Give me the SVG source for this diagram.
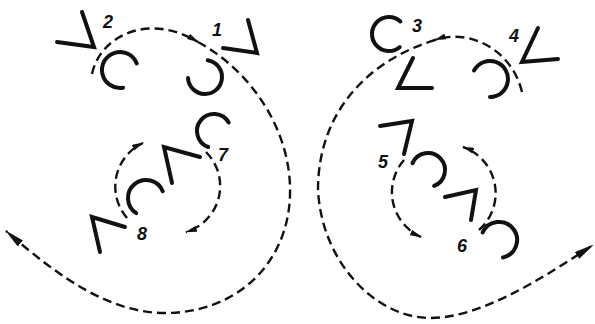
<svg xmlns="http://www.w3.org/2000/svg" width="595" height="324" viewBox="0 0 595 324">
<style>
.g{fill:none;stroke:#111;stroke-width:4;stroke-linecap:round;stroke-linejoin:miter}
.d{fill:none;stroke:#111;stroke-width:2.4;stroke-dasharray:9 5}
.t{font-family:"Liberation Sans",Arial,sans-serif;font-style:italic;font-weight:bold;font-size:18px;fill:#111;text-anchor:middle}
</style>
<defs>
<marker id="ah" markerUnits="userSpaceOnUse" viewBox="0 0 12 6" refX="11" refY="3" markerWidth="12" markerHeight="6" orient="auto"><path d="M0,0 L12,3 L0,6 z" fill="#111"/></marker>
<marker id="ahL" markerUnits="userSpaceOnUse" viewBox="0 0 20 8" refX="19" refY="4" markerWidth="20" markerHeight="8" orient="auto"><path d="M0,0 L20,4 L0,8 z" fill="#111"/></marker>
</defs>
<g id="connectors">
<path class="d" d="M92,74 C100,36 148,12 198,42" marker-end="url(#ah)"/>
<path class="d" d="M198,42 C250,70 292,130 290,195 C288,265 235,313 165,313 C110,313 60,278 6,231" marker-end="url(#ahL)"/>
<path class="d" d="M127,218 A48,48 0 0 1 143,143" marker-end="url(#ah)"/>
<path class="d" d="M206,152 A48,48 0 0 1 186,232" marker-end="url(#ah)"/>
<path class="d" d="M522,92 C512,50 470,28 435,40" marker-end="url(#ah)"/>
<path class="d" d="M435,40 C370,60 318,110 318,190 C322,265 378,318 430,318 C480,318 540,280 593,245" marker-end="url(#ahL)"/>
<path class="d" d="M404,160 A49,49 0 0 0 421,237" marker-end="url(#ah)"/>
<path class="d" d="M479,230 A49,49 0 0 0 463,147" marker-end="url(#ah)"/>
</g>
<g id="node1">
<polyline class="g" points="223,48 257,53 248,20"/>
<path class="g" d="M207.7,60.2 A17,17 0 1 1 188,77.9"/>
<text class="t" x="217" y="36">1</text>
</g>
<g id="node2">
<polyline class="g" points="57,42 94,47 82,12"/>
<path class="g" d="M136.8,63.5 A18,18 0 1 0 123.1,87.7"/>
<text class="t" x="108" y="28">2</text>
</g>
<g id="node3">
<polyline class="g" points="413,58 398,88 432,88"/>
<path class="g" d="M400.4,21.4 A17,17 0 1 0 399.7,47.2"/>
<text class="t" x="417" y="32">3</text>
</g>
<g id="node4">
<polyline class="g" points="538,28 522,62 558,59"/>
<path class="g" d="M474.1,70.5 A18,18 0 1 1 490,97"/>
<text class="t" x="514" y="42">4</text>
</g>
<g id="node5">
<polyline class="g" points="380,126 412,121 404,154"/>
<path class="g" d="M412.5,163.1 A17,17 0 1 1 434.1,185.9"/>
<text class="t" x="383" y="168">5</text>
</g>
<g id="node6">
<polyline class="g" points="445,197 476,190 471,220"/>
<path class="g" d="M482.7,232.4 A18,18 0 1 1 503,257.5"/>
<text class="t" x="462" y="252">6</text>
</g>
<g id="node7">
<polyline class="g" points="172,183 164,147 200,157"/>
<path class="g" d="M228.7,122.5 A17,17 0 1 0 208.2,147"/>
<text class="t" x="223" y="161">7</text>
</g>
<g id="node8">
<polyline class="g" points="100,252 92,217 125,227"/>
<path class="g" d="M162.7,191.3 A18,18 0 1 0 136.2,213.1"/>
<text class="t" x="142" y="240">8</text>
</g>
</svg>
